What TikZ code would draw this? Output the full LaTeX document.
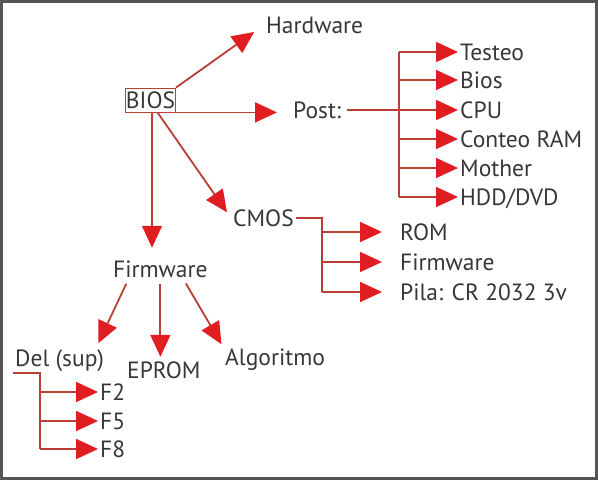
\documentclass[tikz,border=0pt]{standalone}
\usepackage{fontspec}
\setmainfont{PT Sans}
\usetikzlibrary{arrows.meta}
\definecolor{lineRed}{RGB}{185,62,52}
\definecolor{headRed}{RGB}{224,30,34}
\definecolor{textGray}{RGB}{55,55,55}
\definecolor{frameGray}{RGB}{85,85,85}

\begin{document}
\begin{tikzpicture}
[x=1pt,y=-1pt,
  every node/.style={inner sep=2pt,anchor=west,text height=16pt,text depth=0pt,text=textGray},%
  lineDecorate/.style={-,line width=1.8pt,lineRed},
  arrowDecorate/.style={-{Triangle[length=22pt,width=20pt,color=headRed]},line width=1.8pt,lineRed}]
\fontsize{23.5}{28}\selectfont
\useasboundingbox (0,0) rectangle (598,480);
\draw[frameGray,line width=3pt] (1.5,1.5) rectangle (596.5,478.5);

\node[draw=lineRed,line width=0.8pt,inner xsep=0.5pt,inner ysep=4pt,anchor=center] (bios) at (150.5,100) {BIOS};
\node (hardware) at (264,25) {Hardware};
\node (post) at (291,110) {Post:};
\foreach \name/\y/\txt in {testeo/52/Testeo, biosPost/80/Bios, cpu/110/CPU,
  conteo/139/Conteo RAM, mother/168/Mother, hdd/197/{HDD/DVD}}
  \node (\name) at (458,\y) {\txt};
\node (cmos) at (231,218) {CMOS};
\foreach \name/\y/\txt in {rom/232/ROM, firmCmos/262/Firmware, pila/292/Pila: CR 2032 3v}
  \node (\name) at (398,\y) {\txt};
\node (firmware) at (111,269) {Firmware};
\node (del) at (13,358) {Del (sup)};
\node (eprom) at (125,370) {EPROM};
\node (algoritmo) at (223,357) {Algoritmo};
\foreach \name/\y/\txt in {f2/392/F2, f5/421/F5, f8/449/F8}
  \node (\name) at (98,\y) {\txt};

\coordinate (postBus) at (399,0);
\coordinate (cmosBus) at (322,0);
\coordinate (delBus) at (40,373);

% BIOS
\draw[arrowDecorate,shorten >=12pt] (bios.north east) -- (hardware.west);
\draw[arrowDecorate,shorten >=14pt] (bios.south east) -- (post.west |- bios.south east);
\draw[arrowDecorate,shorten >=7pt] ([xshift=7pt]bios.south) -- (cmos.west);
\draw[arrowDecorate,shorten >=11pt] ([xshift=1.5pt]bios.south) -- ([xshift=1.5pt]bios.south |- firmware.north);

% Post
\draw[arrowDecorate,shorten <=4pt] (post.east) -- (cpu.west);
\draw[lineDecorate] (postBus |- testeo.west) -- (postBus |- hdd.west);
\path
\foreach \name in {testeo,biosPost,conteo,mother,hdd}
{
  (postBus |- \name.west) edge[arrowDecorate] (\name.west)
};

% CMOS
\draw[lineDecorate] (cmos.east) -| (cmosBus |- pila.west);
\path
\foreach \name in {rom,firmCmos,pila}
{
  (cmosBus |- \name.west) edge[arrowDecorate,shorten >=16pt] (\name.west)
};

% Firmware
\draw[arrowDecorate,shorten <=5pt,shorten >=5pt] ([xshift=-32pt]firmware.south) -- ([xshift=-10pt]del.north east);
\draw[arrowDecorate,shorten <=5pt,shorten >=3pt] ([xshift=0pt]firmware.south) -- ([xshift=0pt]firmware.south |- eprom.north);
\draw[arrowDecorate,shorten <=5pt,shorten >=3pt] ([xshift=23pt]firmware.south) -- (algoritmo.north west);

% Del
\draw[lineDecorate] (del.west |- delBus) -| (delBus |- f8.west);
\path
\foreach \name in {f2,f5,f8}
{
  (delBus |- \name.west) edge[arrowDecorate] (\name.west)
};
\end{tikzpicture}
\end{document}
